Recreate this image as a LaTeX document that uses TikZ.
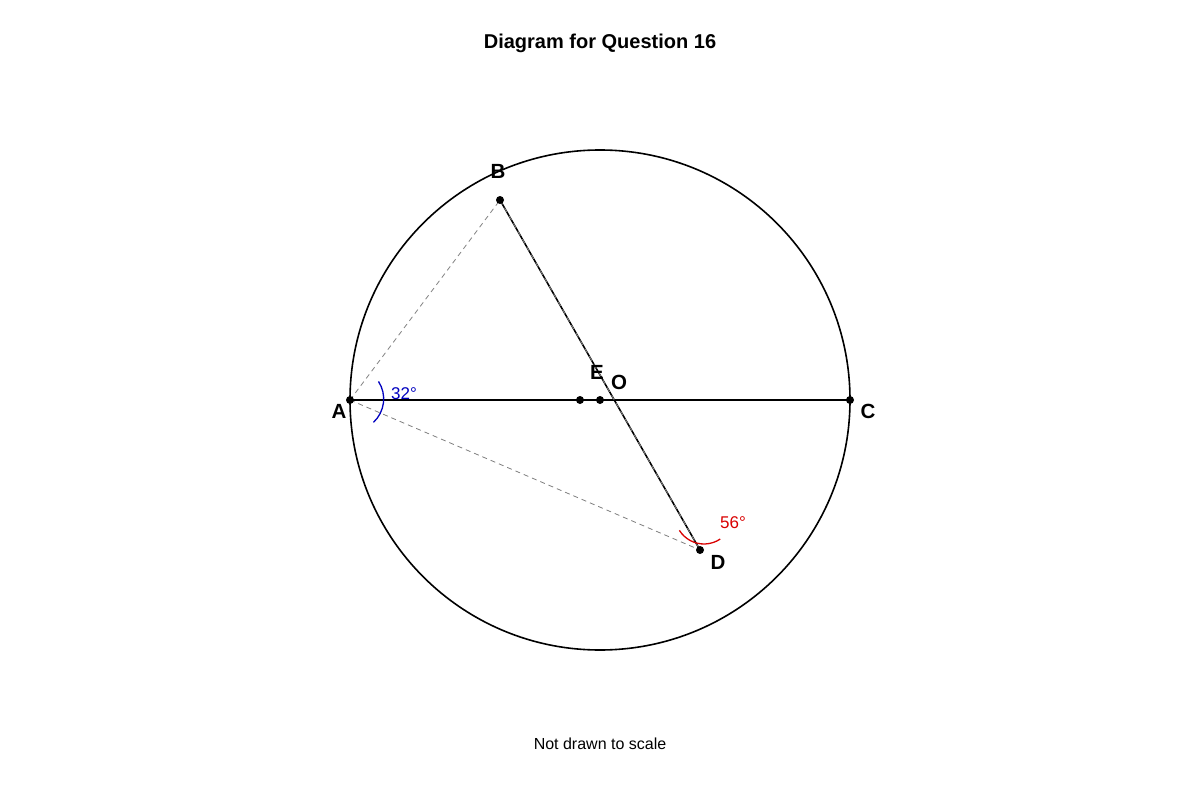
\documentclass[tikz,border=0pt]{standalone}
\usepackage{fontspec}
\setmainfont{Liberation Sans}
\begin{document}
\begin{tikzpicture}[x=1pt,y=-1pt,
  dot/.style={circle,fill=black,inner sep=0pt,minimum size=8pt},
  lbl/.style={font=\fontsize{20.5}{24}\selectfont\bfseries},
  guide/.style={dashed,gray,line width=0.8pt,dash pattern=on 5pt off 4pt}]
\useasboundingbox (0,0) rectangle (1200,800);
\node[font=\fontsize{20}{24}\selectfont\bfseries] (title) at (600,43) {Diagram for Question 16};
\node[font=\fontsize{16}{19}\selectfont] (note) at (600,744) {Not drawn to scale};
\coordinate (O) at (600,400);
\draw[line width=1.6pt] (O) circle[radius=250];
\coordinate (A) at (350,400);
\coordinate (C) at (850,400);
\coordinate (B) at (500,200);
\coordinate (D) at (700,550);
\coordinate (E) at (580,400);
\draw[line width=1.6pt] (A) -- (C);
\draw[line width=1.6pt] (B) -- (D);
\draw[guide] (A) -- (B);
\draw[guide] (A) -- (D);
\draw[guide] (B) -- (D);
\node[dot] (dA) at (A) {};
\node[dot] (dC) at (C) {};
\node[dot] (dB) at (B) {};
\node[dot] (dD) at (D) {};
\node[dot] (dE) at (E) {};
\node[dot] (dO) at (O) {};
\node[lbl] (lA) at (339,411) {A};
\node[lbl] (lC) at (868,411) {C};
\node[lbl] (lB) at (498,171) {B};
\node[lbl] (lD) at (718,562) {D};
\node[lbl] (lE) at (597,372) {E};
\node[lbl] (lO) at (619,382) {O};
\draw[blue!75!black,line width=1.3pt] ([shift={(-33:34)}]A) arc[start angle=-33,end angle=47,radius=32];
\node[blue!75!black,font=\fontsize{17}{20}\selectfont] (a32) at (404,394) {32°};
\coordinate (Dc) at (704,515);
\draw[red!85!black,line width=1.3pt] ([shift={(148:29)}]Dc) arc[start angle=148,end angle=56,radius=29];
\node[red!85!black,font=\fontsize{17}{20}\selectfont] (a56) at (733,523) {56°};
\end{tikzpicture}
\end{document}
